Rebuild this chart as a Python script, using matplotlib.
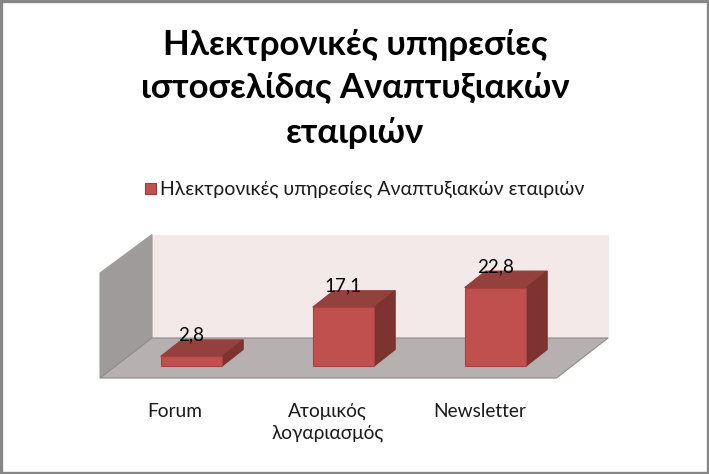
import matplotlib
matplotlib.use('Agg')
import matplotlib.pyplot as plt
from matplotlib.patches import Polygon, Rectangle

title_lines = ['Ηλεκτρονικές υπηρεσίες', 'ιστοσελίδας Αναπτυξιακών', 'εταιριών']
series_name = 'Ηλεκτρονικές υπηρεσίες Αναπτυξιακών εταιριών'
categories = ['Forum', 'Ατομικός\nλογαριασμός', 'Newsletter']
values = [2.8, 17.1, 22.8]
value_labels = ['2,8', '17,1', '22,8']

plt.rcParams['font.family'] = ['Lato', 'Open Sans', 'DejaVu Sans']

# pixel geometry of the fake 3d box
BASE_Y = 366
PX_PER_UNIT = 3.44
BAR_W = 61.5
FIRST_X = 160.7
STEP_X = 152
DX, DY = 21, 16.5


def val_y(v):
    return BASE_Y - v * PX_PER_UNIT


def poly(ax, pts, color, edge=None, lw=0.8, z=2):
    ax.add_patch(Polygon(pts, closed=True, facecolor=color,
                         edgecolor=edge if edge else color, linewidth=lw, zorder=z))


fig = plt.figure(figsize=(7.09, 4.74), dpi=100)
ax = fig.add_axes([0, 0, 1, 1])
ax.set_xlim(0, 709)
ax.set_ylim(474, 0)
ax.axis('off')

# chart border
ax.add_patch(Rectangle((1, 1), 706.5, 472, fill=False, edgecolor='#868686', linewidth=2.4, zorder=5))

# walls and floor
poly(ax, [(152, 234.5), (608, 234.5), (608, 338), (152, 338)], '#F4E9E9')
poly(ax, [(100, 273), (152, 234.5), (152, 338), (100, 378)], '#A09B9B')
poly(ax, [(100, 378), (152, 338), (608, 338), (556.5, 378)], '#B6B0B0', edge='#8E8A8A')

# bars
for i, v in enumerate(values):
    x0 = FIRST_X + i * STEP_X
    x1 = x0 + BAR_W
    top = val_y(v)
    poly(ax, [(x0, top), (x0 + DX, top - DY), (x1 + DX, top - DY), (x1, top)], '#94403D', z=3)
    poly(ax, [(x1, top), (x1 + DX, top - DY), (x1 + DX, BASE_Y - DY), (x1, BASE_Y)], '#7D3330', z=3)
    poly(ax, [(x0, top), (x1, top), (x1, BASE_Y), (x0, BASE_Y)], '#C0504D', edge='#A5423F', z=3)
    ax.text(x0 + 30.5, top - 21, value_labels[i], fontsize=13.5, ha='center', va='center',
            color='black', zorder=4)
    # category labels sit below the floor
    ax.text(x0 + 14.5, 403, categories[i], fontsize=13.8, ha='center',
            va='top', color='#1a1a1a', linespacing=1.3, zorder=4)

# title
for line, y in zip(title_lines, [45, 87, 133]):
    ax.text(355, y, line, fontsize=25, fontweight='bold', ha='center', va='center', color='black')

# legend
ax.add_patch(Rectangle((144.5, 183), 11, 11, facecolor='#C0504D', edgecolor='#94403D', linewidth=0.8))
ax.text(160, 189, series_name, fontsize=14, ha='left', va='center', color='#1a1a1a')

fig.savefig('out.png', dpi=100)
